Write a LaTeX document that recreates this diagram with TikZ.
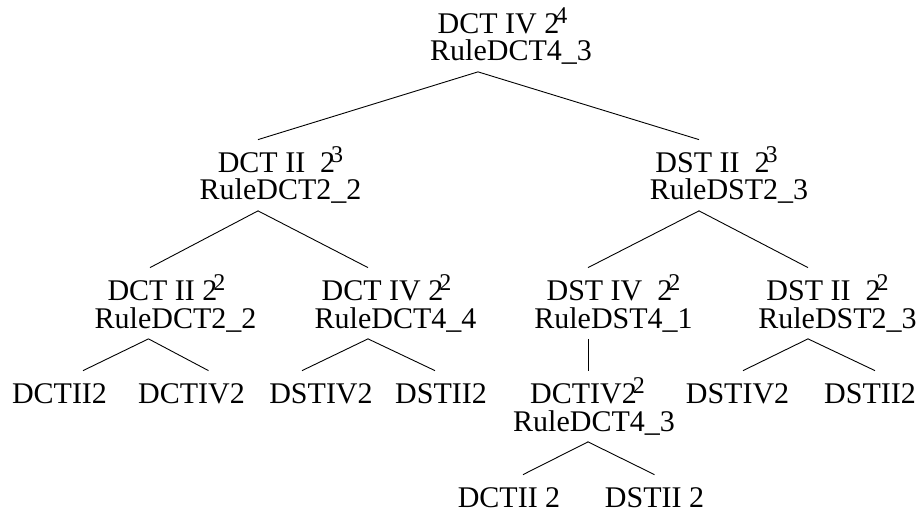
\documentclass[tikz,border=0pt]{standalone}
\usepackage{fontspec}
\setmainfont{Liberation Serif}
\usepackage{tikz}
\tikzstyle{tnode} = [align=center, inner sep=0pt, outer ysep=7pt, anchor=base, font=\fontsize{30}{27.5}\selectfont]
\tikzstyle{leaf} = [inner sep=0pt, outer ysep=12.5pt, anchor=base, font=\fontsize{30}{27.5}\selectfont]
\tikzstyle{edge} = [line width=0.9pt]
\newcommand{\pw}[1]{\kern-4pt\raisebox{10pt}{\fontsize{24}{24}\selectfont #1}}
\newcommand{\pad}[1]{\rule{#1}{0pt}}

\begin{document}
\begin{tikzpicture}[x=1pt, y=-1pt]
    \useasboundingbox (0,0) rectangle (923,518);

    % Nodes
    \node (root) [tnode] at (511,61) {DCT IV 2\pw{4}\pad{17pt}\\RuleDCT4\_3};
    \node (dct2a) [tnode] at (280.5,200) {DCT II~ 2\pw{3}\\RuleDCT2\_2};
    \node (dst2a) [tnode] at (729,200) {DST II~ 2\pw{3}\pad{25pt}\\RuleDST2\_3};
    \node (dct2b) [tnode] at (175.5,328) {DCT II 2\pw{2}\pad{18pt}\\RuleDCT2\_2};
    \node (dct4b) [tnode] at (395.5,328) {DCT IV 2\pw{2}\pad{18pt}\\RuleDCT4\_4};
    \node (dst4b) [tnode] at (613.5,328) {DST IV~ 2\pw{2}\\RuleDST4\_1};
    \node (dst2b) [tnode] at (837.5,328) {DST II~ 2\pw{2}\pad{20pt}\\RuleDST2\_3};
    \node (dct4c) [tnode] at (594,431) {DCTIV2\pw{2}\pad{13pt}\\RuleDCT4\_3};

    \node (lfa) [leaf] at (59.5,403) {DCTII2};
    \node (lfb) [leaf] at (191.5,403) {DCTIV2};
    \node (lfc) [leaf] at (321,403) {DSTIV2};
    \node (lfd) [leaf] at (441,403) {DSTII2};
    \node (lfe) [leaf] at (737.5,403) {DSTIV2};
    \node (lff) [leaf] at (870,403) {DSTII2};
    \node (lfg) [leaf] at (509,507) {DCTII 2};
    \node (lfh) [leaf] at (654.5,507) {DSTII 2};

    % Lines
    \draw [edge] ([xshift=-33pt]root.south) -- ([xshift=-22.5pt]dct2a.north);
    \draw [edge] ([xshift=-33pt]root.south) -- ([xshift=-30pt]dst2a.north);
    \draw [edge] ([xshift=-22.5pt]dct2a.south) -- ([xshift=-25.5pt]dct2b.north);
    \draw [edge] ([xshift=-22.5pt]dct2a.south) -- ([xshift=-27.5pt]dct4b.north);
    \draw [edge] ([xshift=-30pt]dst2a.south) -- ([xshift=-25.5pt]dst4b.north);
    \draw [edge] ([xshift=-30pt]dst2a.south) -- ([xshift=-29.5pt]dst2b.north);
    \draw [edge] ([xshift=-27pt]dct2b.south) -- ([xshift=23.5pt]lfa.north);
    \draw [edge] ([xshift=-27pt]dct2b.south) -- ([xshift=17pt]lfb.north);
    \draw [edge] ([xshift=-27.5pt]dct4b.south) -- ([xshift=-19pt]lfc.north);
    \draw [edge] ([xshift=-27.5pt]dct4b.south) -- ([xshift=-6pt]lfd.north);
    \draw [edge] ([xshift=-25.5pt]dst4b.south) -- ([xshift=-6pt]dct4c.north);
    \draw [edge] ([xshift=-29.5pt]dst2b.south) -- ([xshift=5.5pt]lfe.north);
    \draw [edge] ([xshift=-29.5pt]dst2b.south) -- ([xshift=5pt]lff.north);
    \draw [edge] ([xshift=-6pt]dct4c.south) -- ([xshift=14pt]lfg.north);
    \draw [edge] ([xshift=-6pt]dct4c.south) -- ([xshift=0pt]lfh.north);

\end{tikzpicture}
\end{document}
